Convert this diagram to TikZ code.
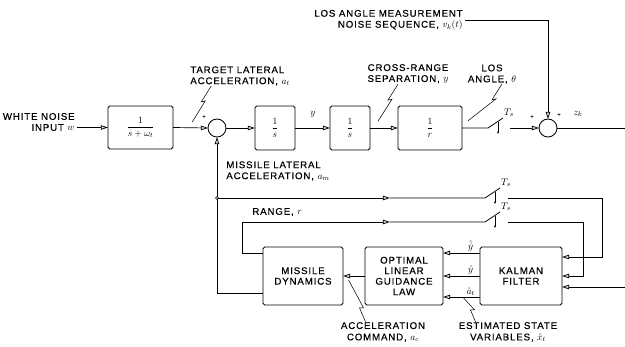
\documentclass[tikz,border=0pt]{standalone}
\usepackage{fontspec}
\setmainfont{Liberation Sans}[LetterSpace=9, FakeBold=0.5]
\usetikzlibrary{arrows.meta}

\tikzset{
  blk/.style={draw, line width=1.1pt, rounded corners=2pt, inner sep=0pt, outer sep=0pt,
    align=center, font=\fontsize{11}{12}\selectfont},
  sumpt/.style={draw, circle, line width=1pt, minimum size=0.72cm, inner sep=0pt, outer sep=0pt},
  lbl/.style={font=\fontsize{11}{12.5}\selectfont, inner sep=0pt},
  arr/.style={-{Triangle[open, length=8pt, width=5pt, fill=black!15]}},
  sampletick/.style={-{Stealth[length=3pt, width=2.5pt]}},
  leader/.style={line width=0.6pt},
}

\begin{document}
\begin{tikzpicture}[x=0.04cm, y=-0.04cm, line width=0.8pt]

        \useasboundingbox (0,0) rectangle (625,347);

        % blocks
        \node[blk, minimum width=2.6cm, minimum height=1.72cm] (filt) at (140.5,127.5) {$\displaystyle\frac{1}{s+\omega_t}$};
        \node[sumpt] (sum1) at (217,128) {};
        \node[blk, minimum width=1.6cm, minimum height=1.76cm] (int1) at (275,128) {$\displaystyle\frac{1}{s}$};
        \node[blk, minimum width=1.6cm, minimum height=1.76cm] (int2) at (350,128) {$\displaystyle\frac{1}{s}$};
        \node[blk, minimum width=2.56cm, minimum height=1.76cm] (geom) at (430,128) {$\displaystyle\frac{1}{r}$};
        \node[sumpt] (sum2) at (548,128) {};
        \node[blk, minimum width=3.2cm, minimum height=2.32cm] (md) at (303,276) {MISSILE\\DYNAMICS};
        \node[blk, minimum width=3.12cm, minimum height=2.32cm] (glaw) at (404,276) {OPTIMAL\\LINEAR\\GUIDANCE\\LAW};
        \node[blk, minimum width=3.28cm, minimum height=2.32cm] (kf) at (521,276) {KALMAN\\FILTER};

        % texts
        \node[lbl, anchor=east, align=right] (wn) at (75,122) {WHITE NOISE\\INPUT $w$};
        \node[lbl, anchor=west, align=left] (tgt) at (190,76) {TARGET LATERAL\\ACCELERATION, $a_t$};
        \node[lbl, align=center] (crs) at (408,74) {CROSS-RANGE\\SEPARATION, $y$};
        \node[lbl, align=center] (los) at (492,74) {LOS\\ANGLE, $\theta$};
        \node[lbl, anchor=east, align=right] (nse) at (463,20) {LOS ANGLE MEASUREMENT\\NOISE SEQUENCE, $v_k(t)$};
        \node[lbl, anchor=west, align=left] (mla) at (226,171) {MISSILE LATERAL\\ACCELERATION, $a_m$};
        \node[lbl, anchor=west] (rng) at (252,212) {RANGE, $r$};
        \node[lbl, align=center, font=\fontsize{11}{13}\selectfont] (acc) at (383,332) {ACCELERATION\\COMMAND, $a_c$};
        \node[lbl, align=center, font=\fontsize{11}{13}\selectfont] (est) at (508,332) {ESTIMATED STATE\\VARIABLES, $\hat{x}_t$};
        \node[lbl] (ydot) at (313,114) {$y$};
        \node[lbl] (zk) at (578,114) {$z_k$};
        \node[lbl, font=\scriptsize] (p1) at (204,117) {+};
        \node[lbl, font=\scriptsize] (p2) at (532,117) {+};
        \node[lbl, font=\scriptsize] (p3) at (559,115) {+};

        \coordinate (sw1a) at (488,128);
        \coordinate (sw1b) at (510,128);
        \coordinate (sw2a) at (485,198);
        \coordinate (sw2b) at (508,198);
        \coordinate (sw3a) at (485,222);
        \coordinate (sw3b) at (508,222);
        \coordinate (jn) at (217,198);
        \coordinate (rg) at (242,222);
        \coordinate (m1) at (390,198);
        \coordinate (m2) at (390,222);
        \coordinate (r1) at (602,198);
        \coordinate (r2) at (583,222);
        \coordinate (nz) at (548,20);
        \coordinate (zout) at (625,128);
        \coordinate (zin) at (625,287);

        % forward path
        \draw[arr] ([xshift=2pt]wn.east |- filt.west) -- (filt.west);
        \draw[arr] (filt.east) -- (sum1.west);
        \draw[arr] (sum1.east) -- (int1.west);
        \draw[arr] (int1.east) -- (int2.west);
        \draw[arr] (int2.east) -- (geom.west);
        \draw (geom.east) -- (sw1a) -- ++(15,-10) node[lbl, above right, inner sep=1pt]{$T_s$};
        \draw[sampletick] (sw1a) ++(10,-6) -- ++(0,12);
        \draw[arr] (sw1b) -- (sum2.west);
        \draw (sum2.east) -- (zout);
        \draw[arr] ([xshift=2pt]nse.east) -- (nz) -- (sum2.north);

        % feedback and range
        \draw ([yshift=-0.68cm]md.west) -| (jn);
        \draw[arr] (jn) -- (sum1.south);
        \draw[arr] (jn) -- (m1);
        \draw (m1) -- (sw2a) -- ++(15,-10) node[lbl, above right, inner sep=1pt]{$T_s$};
        \draw[sampletick] (sw2a) ++(10,-6) -- ++(0,12);
        \draw[arr] (sw2b) -- (r1) |- ([yshift=0.76cm]kf.east);
        \draw[fill=white, line width=0.6pt] (jn) circle (1.6pt);

        \draw ([yshift=0.92cm]md.west) -| (rg);
        \draw[arr] (rg) -- (m2);
        \draw (m2) -- (sw3a) -- ++(15,-10) node[lbl, above right, inner sep=1pt]{$T_s$};
        \draw[sampletick] (sw3a) ++(10,-6) -- ++(0,12);
        \draw[arr] (sw3b) -- (r2) |- (kf.east);
        \draw[arr] (zin) -- (kf.east |- zin);

        % estimator to guidance law
        \draw[arr] ([yshift=0.92cm]kf.west) -- ([yshift=0.92cm]glaw.east) node[lbl, pos=0.25, above=1pt]{$\hat{\dot{y}}$};
        \draw[arr] (kf.west) -- (glaw.east) node[lbl, pos=0.25, above=1pt]{$\hat{y}$};
        \draw[arr] ([yshift=-0.84cm]kf.west) -- ([yshift=-0.84cm]glaw.east) node[lbl, pos=0.25, above=1pt]{$\hat{a}_t$};
        \draw[arr] (glaw.west) -- (md.east);

        % leaders
        \draw[leader] ([xshift=0.85cm]tgt.south west) -- ++(-10,16) -- ++(4,-1) -- ++(-13,21);
        \draw[leader] ([xshift=-0.4cm]crs.south) -- ++(-10,16) -- ++(4,-1) -- ++(-14,22);
        \draw[leader] ([xshift=0.4cm]los.south) -- ++(-10,16) -- ++(4,-1) -- ++(-28,22);
        \draw[leader] ([xshift=-0.7cm]acc.north) -- ++(-6,-14) -- ++(4,0) -- ++(-15,-28);
        \draw[leader] ([xshift=-1.3cm]est.north) -- ++(-5,-12) -- ++(4,0) -- ++(-11,-12);

\end{tikzpicture}
\end{document}
